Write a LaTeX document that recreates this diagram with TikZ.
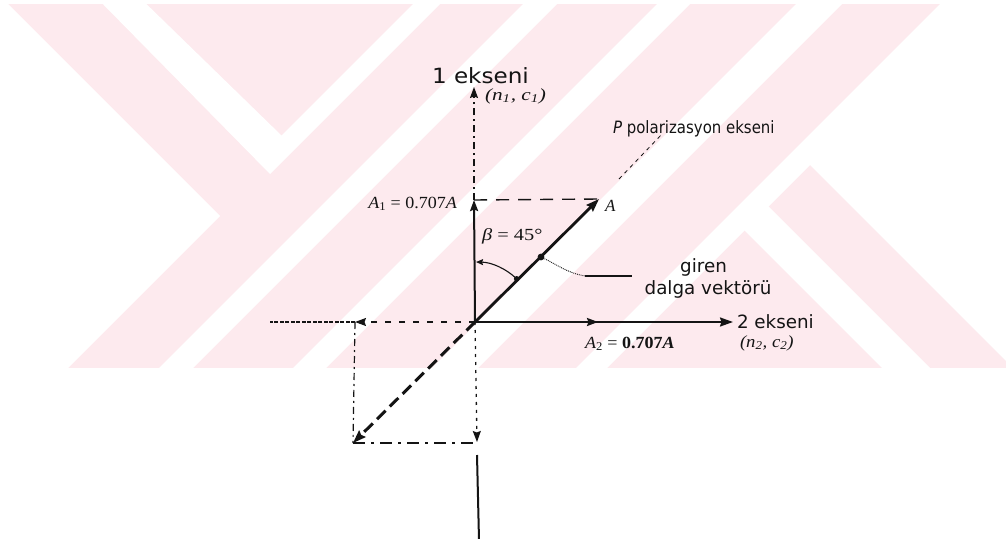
\documentclass[tikz,border=0pt]{standalone}
\usepackage{fontspec}
\setmainfont{Liberation Serif}
\newfontfamily\dvs{DejaVu Sans}
\newfontfamily\dvsn{DejaVu Sans}[FakeStretch=0.88]
\usetikzlibrary{arrows.meta,calc}
\definecolor{wmpink}{RGB}{253,234,238}
\definecolor{ink}{RGB}{20,20,20}
\begin{document}
\begin{tikzpicture}[x=1pt,y=1pt,
  lbl/.style={inner sep=0pt, outer sep=0pt, text=ink},
  sanslbl/.style={lbl, font=\dvs\fontsize{18.3}{20}\selectfont},
  serlbl/.style={lbl, font=\fontsize{17}{19}\selectfont},
  tipL/.style={-{Stealth[length=13pt,width=9pt,inset=1.5pt]}},
  tipM/.style={-{Stealth[length=11pt,width=8pt,inset=1.5pt]}},
  tipS/.style={-{Stealth[length=7pt,width=6pt,inset=1pt]}},
  axisline/.style={draw=ink, line width=2pt},
  vecline/.style={draw=ink, line width=2.8pt},
  dashAone/.style={draw=ink, line width=1.4pt, dash pattern=on 13pt off 9pt},
  dashdotline/.style={draw=ink, line width=1.2pt, dash pattern=on 7pt off 4pt on 2pt off 4pt},
  leftdash/.style={draw=ink, line width=1.2pt, dash pattern=on 6pt off 8pt},
  leftdot/.style={draw=ink, line width=1.4pt, dash pattern=on 4pt off 1.5pt},
  downdot/.style={draw=ink, line width=1.3pt, dash pattern=on 3pt off 5pt},
  bottomdash/.style={draw=ink, line width=1.6pt, dash pattern=on 12pt off 6pt on 3pt off 6pt},
  negdash/.style={draw=ink, line width=3pt, dash pattern=on 12pt off 6pt},
  pdash/.style={draw=ink, line width=0.8pt, dash pattern=on 4pt off 4pt},
  wmwhite/.style={fill=white, draw=none}
]
\useasboundingbox (0,0) rectangle (1006,-538);
\fill[white] (0,0) rectangle (1006,-538);
% watermark
\begin{scope}
  \clip (0,-4) rectangle (1006,-368);
  \fill[wmpink] (0,-4) rectangle (1006,-368);
  \fill[wmwhite] (-10,10) -- (-6,10) -- (220,-216) -- (56,-380) -- (-10,-380) -- cycle;
  \fill[wmwhite] (89,10) -- (132,10) -- (281.5,-135.5) -- (427,10) -- (454,10) -- (270,-174) -- cycle;
  \fill[wmwhite] (537,10) -- (571,10) -- (181,-380) -- (147,-380) -- cycle;
  \fill[wmwhite] (671,10) -- (704,10) -- (314,-380) -- (281,-380) -- cycle;
  \fill[wmwhite] (810,10) -- (856,10) -- (466,-380) -- (420,-380) -- cycle;
  \fill[wmwhite] (954,10) -- (1020,10) -- (1020,-375) -- (810,-165) -- (595,-380) -- (564,-380) -- cycle;
  \fill[wmwhite] (736,-222) -- (760,-198) -- (942,-380) -- (894,-380) -- cycle;
\end{scope}
% points
\coordinate (O) at (475,-322);
\coordinate (T1) at (474,-87);
\coordinate (A1) at (474,-200);
\coordinate (A) at (599,-199);
\coordinate (A2) at (598,-322);
\coordinate (T2) at (733,-322);
\coordinate (L) at (355,-322);
\coordinate (Lend) at (270,-322);
\coordinate (B) at (353,-443);
\coordinate (Bd) at (477,-442);
\coordinate (Bc) at (478,-443);
\coordinate (D1) at (477,-455);
\coordinate (D2) at (479,-540);
\coordinate (Pa) at (619,-179);
\coordinate (Pb) at (663,-133);
\coordinate (Dot) at (541,-257);
\coordinate (Lk) at (585,-276);
\coordinate (Lk2) at (632,-276);
\coordinate (ArcS) at ($(O)+(46:60)$);
% axes and components
\draw[dashdotline, tipM] (A1) -- (T1);
\draw[axisline, tipM] (O) -- (A1);
\draw[axisline, tipL] (O) -- (T2);
\draw[axisline, tipM] (O) -- (A2);
\draw[dashAone] (A1) -- (A);
\draw[vecline, tipL] (O) -- (A);
\draw[pdash] (Pa) -- (Pb);
\draw[leftdash, tipM] (O) -- (L);
\draw[leftdot] (L) -- (Lend);
\draw[dashdotline] (L) -- (B);
\draw[negdash, tipL] (O) -- (B);
\draw[bottomdash] (B) -- (Bc);
\draw[downdot, tipM] (O) -- (Bd);
\draw[axisline] (D1) -- (D2);
% angle
\draw[draw=ink, line width=1.1pt, tipS] (ArcS) arc[start angle=46, end angle=89, radius=60];
\fill[ink] (ArcS) circle (2.8);
% wave vector marker and leader
\fill[ink] (Dot) circle (3.4);
\draw[draw=ink, line width=0.9pt, densely dotted] (Dot) to[out=-25, in=170] (Lk);
\draw[draw=ink, line width=1.2pt] (Lk) -- (Lk2);
% labels
\node[lbl, anchor=base west, font=\dvs\fontsize{21}{23}\selectfont] (ax1) at (432,-83) {\scalebox{1.1}[1]{1 ekseni}};
\node[serlbl, anchor=base west] (nc1) at (485,-100) {\scalebox{1.25}[1]{\itshape (n\textsubscript{1}, c\textsubscript{1})}};
\node[lbl, anchor=base west, font=\dvsn\fontsize{17}{19}\selectfont] (pax) at (613,-133) {{\itshape P} polarizasyon ekseni};
\node[serlbl, anchor=base east] (a1lbl) at (457,-208) {\scalebox{1.06}[1]{\textit{A}\textsubscript{1} = 0.707\textit{A}}};
\node[serlbl, anchor=base west] (albl) at (605,-211) {\textit{A}};
\node[serlbl, anchor=base west] (beta) at (482,-240) {\scalebox{1.2}[1]{\textit{β} = 45°}};
\node[sanslbl, anchor=base] (giren) at (703.5,-272) {giren};
\node[sanslbl, anchor=base] (dalga) at (708,-294) {dalga vektörü};
\node[sanslbl, anchor=base west] (ax2) at (737,-328) {2 ekseni};
\node[serlbl, anchor=base west] (a2lbl) at (585,-348) {\scalebox{1.06}[1]{\textit{A}\textsubscript{2} = \textbf{0.707\textit{A}}}};
\node[serlbl, anchor=base west] (nc2) at (740,-347) {\scalebox{1.1}[1]{\itshape (n\textsubscript{2}, c\textsubscript{2})}};
\end{tikzpicture}
\end{document}
